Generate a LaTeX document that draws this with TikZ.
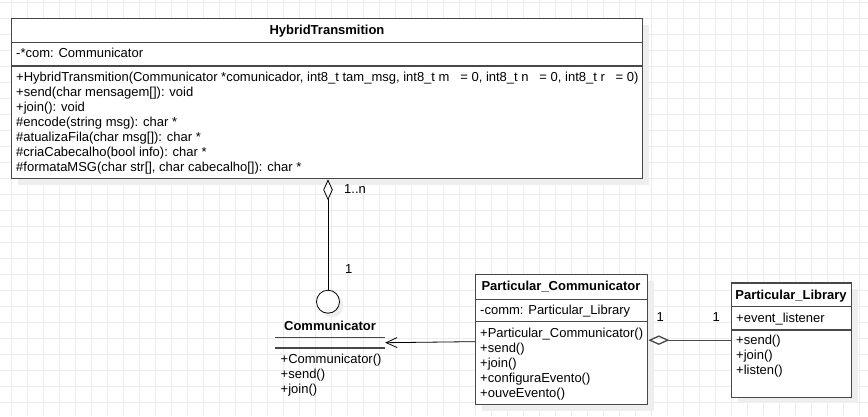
\documentclass[tikz,border=0pt]{standalone}
\usepackage{fontspec}
\setmainfont{Liberation Sans}
\usetikzlibrary{positioning,arrows.meta,shadows}
\definecolor{gridColor}{RGB}{236,236,236}
\definecolor{borderColor}{RGB}{72,72,72}
\definecolor{shadowColor}{RGB}{238,238,238}
\tikzstyle{diagram} = [x=1pt, y=-1pt, font=\fontsize{13}{15}\selectfont]
\tikzstyle{gridLine} = [color=gridColor, line width=1pt]
\tikzstyle{classBox} = [draw=borderColor, line width=1.3pt, fill=white, inner sep=0pt, anchor=north west,
  drop shadow={shadow xshift=6pt, shadow yshift=-6pt, fill=shadowColor, opacity=1}]
\tikzstyle{classLine} = [draw=borderColor, line width=1.3pt]
\tikzstyle{classTitle} = [font=\fontsize{13}{15}\selectfont\bfseries, inner sep=0pt, anchor=base]
\tikzstyle{memberText} = [inner sep=0pt, anchor=base west]
\tikzstyle{multText} = [inner sep=0pt, anchor=base west]
\tikzstyle{aggregation} = [-{Diamond[open, length=21pt, width=9.5pt]}]
\tikzstyle{dependArrow} = [-{Straight Barb[length=11pt, width=10pt]}, line width=.8pt]
\newcommand{\divider}[2]{\draw [classLine] ([yshift=-#2pt]#1.north west) -- ([yshift=-#2pt]#1.north east);}

\begin{document}
\begin{tikzpicture}[diagram]
  \useasboundingbox (0,0) rectangle (868,416);
  % grid
  \foreach \gx in {0,...,53} {
    \draw [gridLine] (11.7+16*\gx, 0) -- +(0,416);
  }
  \foreach \gy in {0,...,25} {
    \draw [gridLine] (0, 2.3+16*\gy) -- +(868,0);
  }

  % HybridTransmition
  \node [classBox, minimum width=631pt, minimum height=160pt] (ht) at (11,18) {};
  \divider{ht}{24.5}
  \divider{ht}{48}
  \node [classTitle] (htName) at (327,34.5) {HybridTransmition};
  \node [memberText] (htAttr) at (16,57.8) {-*com: Communicator};
  \foreach \op [count=\i] in {
      {+HybridTransmition(Communicator *comunicador, int8\_t tam\_msg, int8\_t m\ \ \ = 0, int8\_t n\ \ \ = 0, int8\_t r\ \ \ = 0)},
      {+send(char mensagem[]): void},
      {+join(): void},
      {\#encode(string msg): char *},
      {\#atualizaFila(char msg[]): char *},
      {\#criaCabecalho(bool info): char *},
      {\#formataMSG(char str[], char cabecalho[]): char *}} {
    \node [memberText] (htOp\i) at (16, 66.5+15*\i) {\op};
  }

  % Communicator (interface)
  \node [circle, draw=black, line width=.8pt, fill=white, minimum size=23pt, inner sep=0pt,
    drop shadow={shadow xshift=4pt, shadow yshift=-4pt, fill=shadowColor, opacity=1}] (lol) at (328,301.7) {};
  \node [classTitle] (commName) at (330,330) {Communicator};
  \node [minimum width=110pt, minimum height=10pt, inner sep=0pt] (commBar) at (330,342.7) {};
  \draw [classLine] (commBar.north west) -- (commBar.north east);
  \draw [classLine] (commBar.south west) -- (commBar.south east);
  \foreach \op [count=\i] in {{+Communicator()}, {+send()}, {+join()}} {
    \node [memberText] (commOp\i) at (280.5, 348.5+15*\i) {\op};
  }

  % Particular_Communicator
  \node [classBox, minimum width=172pt, minimum height=130pt] (pc) at (475,274) {};
  \divider{pc}{25.3}
  \divider{pc}{47.7}
  \node [classTitle] (pcName) at (561,290.5) {Particular\_Communicator};
  \node [memberText] (pcAttr) at (480,314.3) {-comm: Particular\_Library};
  \foreach \op [count=\i] in {{+Particular\_Communicator()}, {+send()}, {+join()}, {+configuraEvento()}, {+ouveEvento()}} {
    \node [memberText] (pcOp\i) at (480, 322.5+15*\i) {\op};
  }

  % Particular_Library
  \node [classBox, minimum width=120pt, minimum height=114.4pt] (pl) at (731,282.3) {};
  \divider{pl}{24.4}
  \divider{pl}{47.7}
  \node [classTitle] (plName) at (791,299.5) {Particular\_Library};
  \node [memberText] (plAttr) at (736,322.5) {+event\_listener};
  \foreach \op [count=\i] in {{+send()}, {+join()}, {+listen()}} {
    \node [memberText] (plOp\i) at (736, 329.5+15*\i) {\op};
  }

  % connectors
  \draw [aggregation, line width=.8pt] (lol.north) -- (lol.north |- ht.south);
  \node [multText] (multMany) at (344,193.5) {1..n};
  \node [multText] (multOne) at (345,273.5) {1};
  \draw [dependArrow] ([yshift=-2pt]pc.west) -- (commBar.east);
  \draw [aggregation, classLine] (pl.west) -- (pl.west -| pc.east);
  \node [multText] (multPc) at (656.5,321) {1};
  \node [multText] (multPl) at (712.5,321) {1};
\end{tikzpicture}
\end{document}
